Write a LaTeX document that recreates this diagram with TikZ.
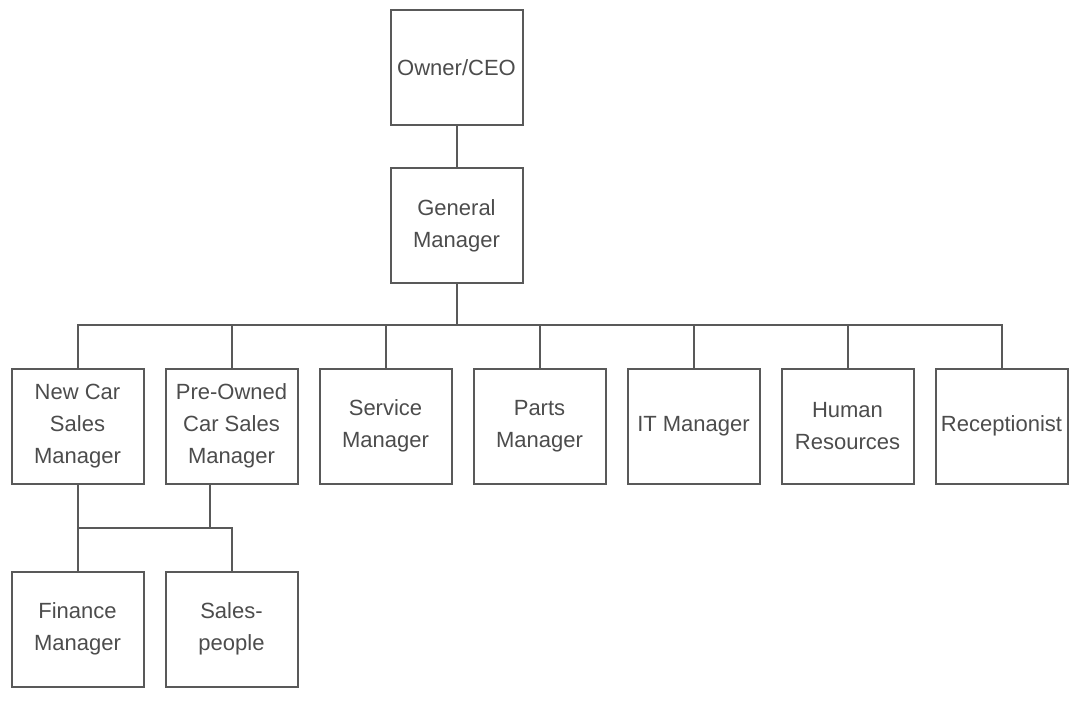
\documentclass[tikz,border=0pt]{standalone}
\usepackage{fontspec}
\setmainfont{Liberation Sans}
\usetikzlibrary{positioning}

\begin{document}
\begin{tikzpicture}[
    x=1pt, y=1pt,
    node distance=43pt and 22pt,
    box/.style={draw=black!65, line width=2pt, minimum width=132pt,
                minimum height=115pt, align=center, inner sep=2pt,
                outer sep=0pt, text=black!70,
                font=\fontsize{22}{32}\selectfont},
    link/.style={draw=black!65, line width=2pt}
]
\useasboundingbox (0,0) rectangle (1070,-707);

% ── Top of the chart ──
\node[box] (ceo) at (456.5,-67.5) {Owner/CEO};
\node[box, below=of ceo] (gm) {General\\Manager};

% ── Managers row ──
\node[box] (newcar) at (77.5,-426) {New Car\\Sales\\Manager};
\node[box, right=of newcar] (precar) {Pre-Owned\\Car Sales\\Manager};
\node[box, right=of precar] (service) {Service\\Manager};
\node[box, right=of service] (parts) {Parts\\Manager};
\node[box, right=of parts] (itmgr) {IT Manager};
\node[box, right=of itmgr] (hr) {Human\\Resources};
\node[box, right=of hr] (recep) {Receptionist};

% ── Sales staff row ──
\node[box, below=88pt of newcar] (finance) {Finance\\Manager};
\node[box, right=of finance] (sales) {Sales-\\people};

% ── Connectors (top) ──
\draw[link] (ceo) -- (gm);
\draw[link] (gm.south) -- ++(0,-42) coordinate (bus);
\draw[link] (newcar.north) |- (bus) -| (recep.north);
\foreach \n in {precar,service,parts,itmgr,hr}
    \draw[link] (\n.north) -- (\n.north |- bus);

% ── Connectors (sales) ──
\draw[link] (newcar.south) -- (finance.north);
\draw[link] ([xshift=-22pt]precar.south) -- ++(0,-44) coordinate (sbus);
\draw[link] (sbus -| newcar.south) -| (sales.north);

\end{tikzpicture}
\end{document}
